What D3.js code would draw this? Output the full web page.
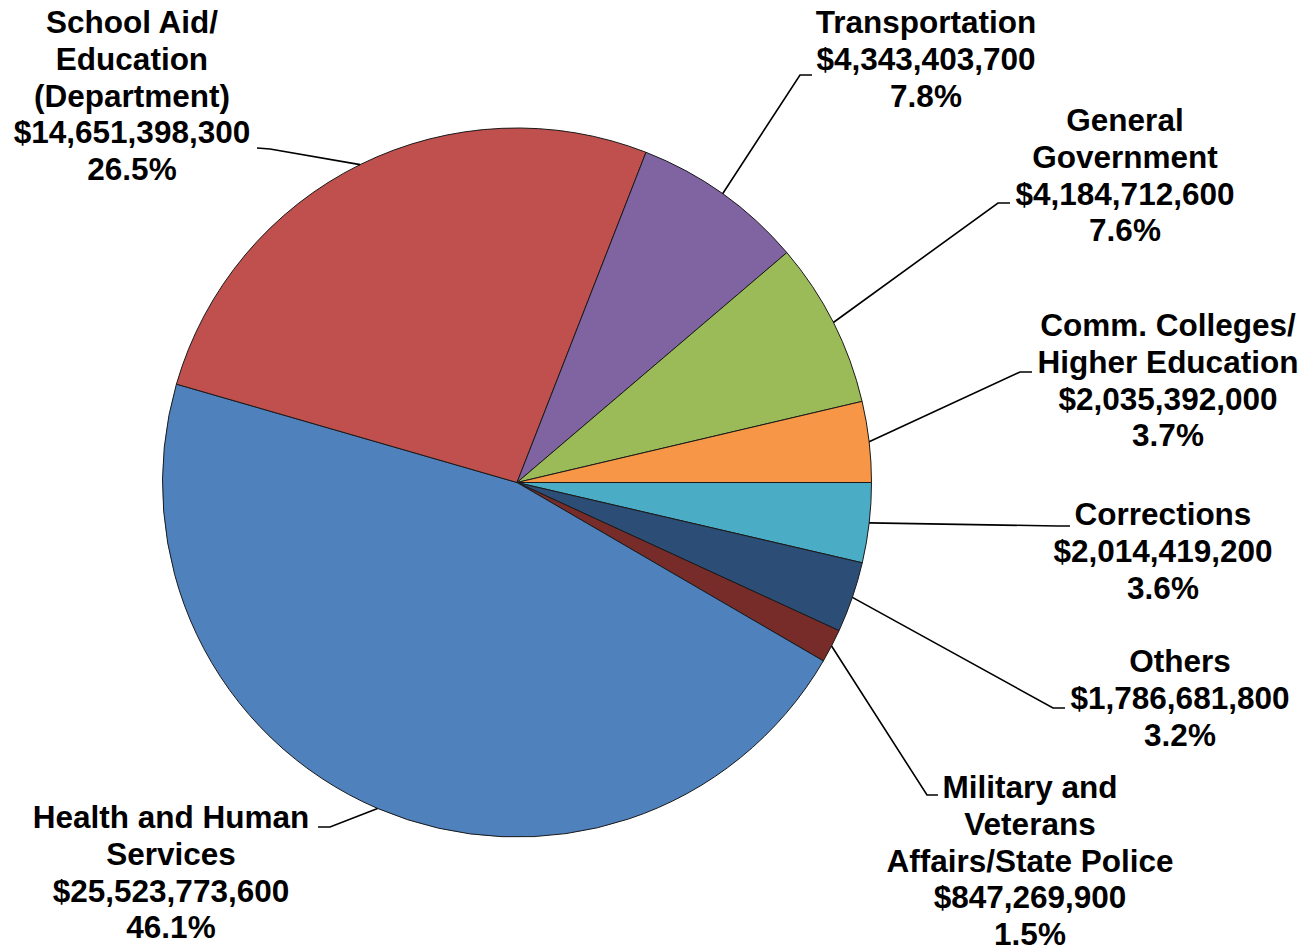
<!DOCTYPE html>
<html>
<head>
<meta charset="utf-8">
<script src="https://cdn.jsdelivr.net/npm/d3@7"></script>
<style>
  html, body { margin: 0; padding: 0; background: #ffffff; }
  svg { display: block; }
</style>
</head>
<body>
<svg id="chart" width="1310" height="950"></svg>
<script>
// ---- data (clockwise order starting at 3 o'clock) ----
const categories = [
  "Corrections",
  "Others",
  "Military and Veterans Affairs/State Police",
  "Health and Human Services",
  "School Aid/ Education (Department)",
  "Transportation",
  "General Government",
  "Comm. Colleges/ Higher Education"
];
const values = [
  2014419200,
  1786681800,
  847269900,
  25523773600,
  14651398300,
  4343403700,
  4184712600,
  2035392000
];
const labelNameLines = [
  ["Corrections"],
  ["Others"],
  ["Military and", "Veterans", "Affairs/State Police"],
  ["Health and Human", "Services"],
  ["School Aid/", "Education", "(Department)"],
  ["Transportation"],
  ["General", "Government"],
  ["Comm. Colleges/", "Higher Education"]
];
const colors = ["#4BACC6", "#2C4D75", "#772C2A", "#4F81BD", "#C0504D", "#8064A2", "#9BBB59", "#F79646"];

// ---- layout (label placement) ----
const cx = 517, cy = 482.5, R = 354.5;
const lineGap = 36.8;
// label centre x, first baseline y, elbow point, stub end point
const labelLayout = [
  { x: 1163, y: 525, elbow: [1058, 526], stub: [1070, 526] },
  { x: 1180, y: 672, elbow: [1053, 708], stub: [1065, 708] },
  { x: 1030, y: 798, elbow: [927, 795], stub: [938, 795] },
  { x: 171,  y: 828, elbow: [330, 827], stub: [318, 827] },
  { x: 132,  y: 33,  elbow: [270, 149], stub: [257, 148] },
  { x: 926,  y: 33,  elbow: [800, 75],  stub: [812, 75] },
  { x: 1125, y: 131, elbow: [998, 203], stub: [1010, 203] },
  { x: 1168, y: 336, elbow: [1020, 372], stub: [1032, 372] }
];

const svg = d3.select("#chart");
const total = d3.sum(values);
const fmtMoney = d3.format("$,.0f");
const fmtPct = d3.format(".1%");

const pie = d3.pie().sort(null).value(d => d)
  .startAngle(Math.PI / 2).endAngle(Math.PI / 2 + 2 * Math.PI);
const arcs = pie(values);
const arc = d3.arc().innerRadius(0).outerRadius(R);

const g = svg.append("g").attr("transform", `translate(${cx},${cy})`);
g.selectAll("path.slice")
  .data(arcs)
  .enter().append("path")
  .attr("class", "slice")
  .attr("d", arc)
  .attr("fill", (d, i) => colors[i])
  .attr("stroke", "#1a1a1a")
  .attr("stroke-width", 1)
  .attr("stroke-linejoin", "round");

// leader lines
const line = d3.line();
arcs.forEach((a, i) => {
  const mid = (a.startAngle + a.endAngle) / 2;
  const p0 = [cx + R * Math.sin(mid), cy - R * Math.cos(mid)];
  const L = labelLayout[i];
  svg.append("path")
    .attr("d", line([p0, L.elbow, L.stub]))
    .attr("fill", "none")
    .attr("stroke", "#000")
    .attr("stroke-width", 1.6);
});

// labels
arcs.forEach((a, i) => {
  const L = labelLayout[i];
  const lines = labelNameLines[i].concat([fmtMoney(values[i]), fmtPct(values[i] / total)]);
  const t = svg.append("text")
    .attr("x", L.x)
    .attr("y", L.y)
    .attr("text-anchor", "middle")
    .attr("font-family", "'Liberation Sans', Arial, sans-serif")
    .attr("font-weight", "bold")
    .attr("font-size", "31.5px")
    .attr("fill", "#000");
  lines.forEach((s, k) => {
    t.append("tspan").attr("x", L.x).attr("y", L.y + k * lineGap).text(s);
  });
});
</script>
</body>
</html>
